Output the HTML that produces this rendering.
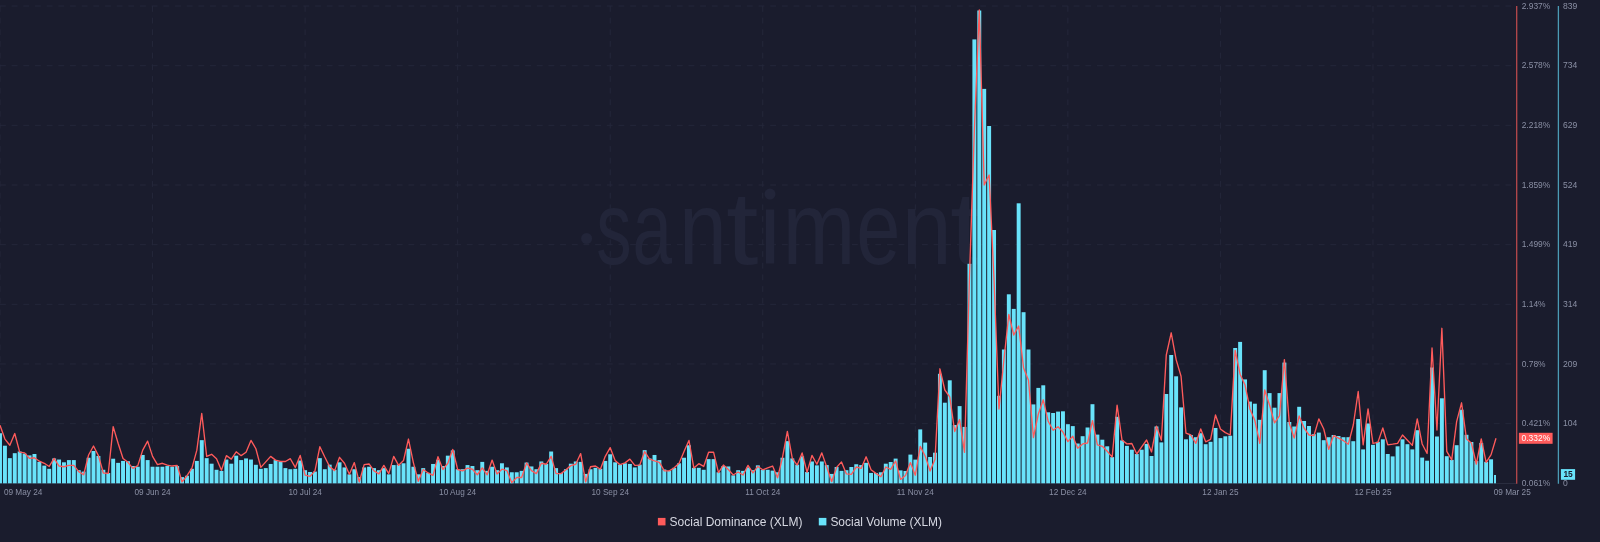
<!DOCTYPE html><html><head><meta charset="utf-8"><style>html,body{margin:0;padding:0;background:#1a1c2d;}svg{display:block;will-change:transform}</style></head><body>
<svg width="1600" height="542" viewBox="0 0 1600 542" font-family="Liberation Sans, sans-serif">
<rect width="1600" height="542" fill="#1a1c2d"/>
<line x1="0" y1="423.64" x2="1514" y2="423.64" stroke="#24273a" stroke-width="1" stroke-dasharray="5.83 5.84"/>
<line x1="0" y1="363.98" x2="1514" y2="363.98" stroke="#24273a" stroke-width="1" stroke-dasharray="5.83 5.84"/>
<line x1="0" y1="304.32" x2="1514" y2="304.32" stroke="#24273a" stroke-width="1" stroke-dasharray="5.83 5.84"/>
<line x1="0" y1="244.66" x2="1514" y2="244.66" stroke="#24273a" stroke-width="1" stroke-dasharray="5.83 5.84"/>
<line x1="0" y1="185.00" x2="1514" y2="185.00" stroke="#24273a" stroke-width="1" stroke-dasharray="5.83 5.84"/>
<line x1="0" y1="125.34" x2="1514" y2="125.34" stroke="#24273a" stroke-width="1" stroke-dasharray="5.83 5.84"/>
<line x1="0" y1="65.68" x2="1514" y2="65.68" stroke="#24273a" stroke-width="1" stroke-dasharray="5.83 5.84"/>
<line x1="0" y1="6.02" x2="1514" y2="6.02" stroke="#24273a" stroke-width="1" stroke-dasharray="5.83 5.84"/>
<line x1="0.00" y1="6" x2="0.00" y2="483.30" stroke="#24273a" stroke-width="1" stroke-dasharray="5.83 5.84"/>
<line x1="152.55" y1="6" x2="152.55" y2="483.30" stroke="#24273a" stroke-width="1" stroke-dasharray="5.83 5.84"/>
<line x1="305.11" y1="6" x2="305.11" y2="483.30" stroke="#24273a" stroke-width="1" stroke-dasharray="5.83 5.84"/>
<line x1="457.66" y1="6" x2="457.66" y2="483.30" stroke="#24273a" stroke-width="1" stroke-dasharray="5.83 5.84"/>
<line x1="610.21" y1="6" x2="610.21" y2="483.30" stroke="#24273a" stroke-width="1" stroke-dasharray="5.83 5.84"/>
<line x1="762.76" y1="6" x2="762.76" y2="483.30" stroke="#24273a" stroke-width="1" stroke-dasharray="5.83 5.84"/>
<line x1="915.32" y1="6" x2="915.32" y2="483.30" stroke="#24273a" stroke-width="1" stroke-dasharray="5.83 5.84"/>
<line x1="1067.87" y1="6" x2="1067.87" y2="483.30" stroke="#24273a" stroke-width="1" stroke-dasharray="5.83 5.84"/>
<line x1="1220.42" y1="6" x2="1220.42" y2="483.30" stroke="#24273a" stroke-width="1" stroke-dasharray="5.83 5.84"/>
<line x1="1372.97" y1="6" x2="1372.97" y2="483.30" stroke="#24273a" stroke-width="1" stroke-dasharray="5.83 5.84"/>
<g fill="#222539">
<circle cx="586.6" cy="238.5" r="5.5"/>
<circle cx="770" cy="194.1" r="5.5"/>
<rect x="765.9" y="209.5" width="8.3" height="54"/>
<text font-size="104" transform="matrix(0.6793 0 0 1 596.22 263.50)">s</text>
<text font-size="104" transform="matrix(0.6828 0 0 1 632.62 263.50)">a</text>
<text font-size="104" transform="matrix(0.8258 0 0 1 678.93 263.50)">n</text>
<text font-size="104" transform="matrix(1.1230 0 0 1 725.95 263.50)">t</text>
<text font-size="104" transform="matrix(0.8422 0 0 1 782.52 263.50)">m</text>
<text font-size="104" transform="matrix(0.7631 0 0 1 856.37 263.50)">e</text>
<text font-size="104" transform="matrix(0.8643 0 0 1 901.87 263.50)">n</text>
<text font-size="104" transform="matrix(1.1230 0 0 1 950.05 263.50)">t</text>
</g>
<line x1="0" y1="483.50" x2="1516" y2="483.50" stroke="#2a2d3f" stroke-width="1"/>
<g fill="#69e3fa">
<rect x="0.00" y="433.25" width="1.97" height="50.05"/>
<rect x="2.95" y="445.70" width="3.94" height="37.60"/>
<rect x="7.87" y="458.15" width="3.94" height="25.15"/>
<rect x="12.79" y="453.17" width="3.94" height="30.13"/>
<rect x="17.71" y="451.51" width="3.94" height="31.79"/>
<rect x="22.64" y="453.59" width="3.94" height="29.71"/>
<rect x="27.56" y="455.39" width="3.94" height="27.91"/>
<rect x="32.48" y="454.00" width="3.94" height="29.30"/>
<rect x="37.40" y="461.89" width="3.94" height="21.41"/>
<rect x="42.32" y="465.62" width="3.94" height="17.68"/>
<rect x="47.24" y="468.81" width="3.94" height="14.49"/>
<rect x="52.16" y="458.43" width="3.94" height="24.87"/>
<rect x="57.08" y="459.54" width="3.94" height="23.76"/>
<rect x="62.00" y="462.30" width="3.94" height="21.00"/>
<rect x="66.92" y="460.09" width="3.94" height="23.21"/>
<rect x="71.85" y="460.09" width="3.94" height="23.21"/>
<rect x="76.77" y="470.19" width="3.94" height="13.11"/>
<rect x="81.69" y="471.57" width="3.94" height="11.73"/>
<rect x="86.61" y="457.74" width="3.94" height="25.56"/>
<rect x="91.53" y="450.96" width="3.94" height="32.34"/>
<rect x="96.45" y="455.94" width="3.94" height="27.36"/>
<rect x="101.37" y="469.78" width="3.94" height="13.52"/>
<rect x="106.29" y="472.96" width="3.94" height="10.34"/>
<rect x="111.21" y="458.71" width="3.94" height="24.59"/>
<rect x="116.14" y="462.86" width="3.94" height="20.44"/>
<rect x="121.06" y="460.92" width="3.94" height="22.38"/>
<rect x="125.98" y="461.20" width="3.94" height="22.10"/>
<rect x="130.90" y="466.04" width="3.94" height="17.26"/>
<rect x="135.82" y="466.73" width="3.94" height="16.57"/>
<rect x="140.74" y="454.97" width="3.94" height="28.33"/>
<rect x="145.66" y="460.09" width="3.94" height="23.21"/>
<rect x="150.58" y="466.73" width="3.94" height="16.57"/>
<rect x="155.50" y="466.73" width="3.94" height="16.57"/>
<rect x="160.42" y="466.73" width="3.94" height="16.57"/>
<rect x="165.35" y="466.04" width="3.94" height="17.26"/>
<rect x="170.27" y="466.73" width="3.94" height="16.57"/>
<rect x="175.19" y="466.04" width="3.94" height="17.26"/>
<rect x="180.11" y="477.11" width="3.94" height="6.19"/>
<rect x="185.03" y="475.73" width="3.94" height="7.57"/>
<rect x="189.95" y="468.81" width="3.94" height="14.49"/>
<rect x="194.87" y="460.92" width="3.94" height="22.38"/>
<rect x="199.79" y="440.16" width="3.94" height="43.14"/>
<rect x="204.71" y="458.15" width="3.94" height="25.15"/>
<rect x="209.64" y="463.69" width="3.94" height="19.61"/>
<rect x="214.56" y="469.78" width="3.94" height="13.52"/>
<rect x="219.48" y="470.88" width="3.94" height="12.42"/>
<rect x="224.40" y="459.54" width="3.94" height="23.76"/>
<rect x="229.32" y="463.69" width="3.94" height="19.61"/>
<rect x="234.24" y="455.66" width="3.94" height="27.64"/>
<rect x="239.16" y="460.09" width="3.94" height="23.21"/>
<rect x="244.08" y="458.43" width="3.94" height="24.87"/>
<rect x="249.00" y="459.54" width="3.94" height="23.76"/>
<rect x="253.92" y="464.79" width="3.94" height="18.51"/>
<rect x="258.85" y="468.81" width="3.94" height="14.49"/>
<rect x="263.77" y="468.12" width="3.94" height="15.18"/>
<rect x="268.69" y="463.96" width="3.94" height="19.34"/>
<rect x="273.61" y="460.09" width="3.94" height="23.21"/>
<rect x="278.53" y="461.47" width="3.94" height="21.83"/>
<rect x="283.45" y="468.12" width="3.94" height="15.18"/>
<rect x="288.37" y="469.22" width="3.94" height="14.08"/>
<rect x="293.29" y="468.81" width="3.94" height="14.49"/>
<rect x="298.21" y="460.51" width="3.94" height="22.79"/>
<rect x="303.14" y="470.19" width="3.94" height="13.11"/>
<rect x="308.06" y="471.99" width="3.94" height="11.31"/>
<rect x="312.98" y="471.57" width="3.94" height="11.73"/>
<rect x="317.90" y="458.15" width="3.94" height="25.15"/>
<rect x="322.82" y="469.22" width="3.94" height="14.08"/>
<rect x="327.74" y="464.66" width="3.94" height="18.64"/>
<rect x="332.66" y="469.78" width="3.94" height="13.52"/>
<rect x="337.58" y="462.30" width="3.94" height="21.00"/>
<rect x="342.50" y="467.42" width="3.94" height="15.88"/>
<rect x="347.42" y="474.34" width="3.94" height="8.96"/>
<rect x="352.35" y="469.22" width="3.94" height="14.08"/>
<rect x="357.27" y="477.11" width="3.94" height="6.19"/>
<rect x="362.19" y="467.42" width="3.94" height="15.88"/>
<rect x="367.11" y="466.73" width="3.94" height="16.57"/>
<rect x="372.03" y="468.12" width="3.94" height="15.18"/>
<rect x="376.95" y="470.19" width="3.94" height="13.11"/>
<rect x="381.87" y="468.12" width="3.94" height="15.18"/>
<rect x="386.79" y="474.34" width="3.94" height="8.96"/>
<rect x="391.71" y="465.07" width="3.94" height="18.23"/>
<rect x="396.64" y="464.66" width="3.94" height="18.64"/>
<rect x="401.56" y="463.27" width="3.94" height="20.03"/>
<rect x="406.48" y="448.74" width="3.94" height="34.56"/>
<rect x="411.40" y="466.73" width="3.94" height="16.57"/>
<rect x="416.32" y="474.34" width="3.94" height="8.96"/>
<rect x="421.24" y="468.12" width="3.94" height="15.18"/>
<rect x="426.16" y="472.96" width="3.94" height="10.34"/>
<rect x="431.08" y="463.96" width="3.94" height="19.34"/>
<rect x="436.00" y="459.81" width="3.94" height="23.49"/>
<rect x="440.92" y="466.04" width="3.94" height="17.26"/>
<rect x="445.85" y="455.66" width="3.94" height="27.64"/>
<rect x="450.77" y="450.40" width="3.94" height="32.90"/>
<rect x="455.69" y="469.22" width="3.94" height="14.08"/>
<rect x="460.61" y="469.22" width="3.94" height="14.08"/>
<rect x="465.53" y="465.07" width="3.94" height="18.23"/>
<rect x="470.45" y="466.04" width="3.94" height="17.26"/>
<rect x="475.37" y="470.19" width="3.94" height="13.11"/>
<rect x="480.29" y="461.89" width="3.94" height="21.41"/>
<rect x="485.21" y="470.88" width="3.94" height="12.42"/>
<rect x="490.14" y="466.73" width="3.94" height="16.57"/>
<rect x="495.06" y="470.19" width="3.94" height="13.11"/>
<rect x="499.98" y="463.27" width="3.94" height="20.03"/>
<rect x="504.90" y="467.42" width="3.94" height="15.88"/>
<rect x="509.82" y="472.27" width="3.94" height="11.03"/>
<rect x="514.74" y="472.27" width="3.94" height="11.03"/>
<rect x="519.66" y="470.88" width="3.94" height="12.42"/>
<rect x="524.58" y="462.58" width="3.94" height="20.72"/>
<rect x="529.50" y="466.45" width="3.94" height="16.85"/>
<rect x="534.42" y="469.22" width="3.94" height="14.08"/>
<rect x="539.35" y="461.47" width="3.94" height="21.83"/>
<rect x="544.27" y="463.96" width="3.94" height="19.34"/>
<rect x="549.19" y="451.51" width="3.94" height="31.79"/>
<rect x="554.11" y="468.12" width="3.94" height="15.18"/>
<rect x="559.03" y="472.96" width="3.94" height="10.34"/>
<rect x="563.95" y="469.22" width="3.94" height="14.08"/>
<rect x="568.87" y="463.69" width="3.94" height="19.61"/>
<rect x="573.79" y="461.47" width="3.94" height="21.83"/>
<rect x="578.71" y="461.89" width="3.94" height="21.41"/>
<rect x="583.64" y="473.93" width="3.94" height="9.37"/>
<rect x="588.56" y="469.22" width="3.94" height="14.08"/>
<rect x="593.48" y="467.84" width="3.94" height="15.46"/>
<rect x="598.40" y="468.81" width="3.94" height="14.49"/>
<rect x="603.32" y="460.92" width="3.94" height="22.38"/>
<rect x="608.24" y="454.28" width="3.94" height="29.02"/>
<rect x="613.16" y="462.30" width="3.94" height="21.00"/>
<rect x="618.08" y="464.66" width="3.94" height="18.64"/>
<rect x="623.00" y="463.27" width="3.94" height="20.03"/>
<rect x="627.92" y="463.96" width="3.94" height="19.34"/>
<rect x="632.85" y="467.42" width="3.94" height="15.88"/>
<rect x="637.77" y="464.66" width="3.94" height="18.64"/>
<rect x="642.69" y="450.13" width="3.94" height="33.17"/>
<rect x="647.61" y="458.43" width="3.94" height="24.87"/>
<rect x="652.53" y="454.97" width="3.94" height="28.33"/>
<rect x="657.45" y="460.09" width="3.94" height="23.21"/>
<rect x="662.37" y="469.50" width="3.94" height="13.80"/>
<rect x="667.29" y="470.88" width="3.94" height="12.42"/>
<rect x="672.21" y="467.84" width="3.94" height="15.46"/>
<rect x="677.14" y="463.27" width="3.94" height="20.03"/>
<rect x="682.06" y="457.74" width="3.94" height="25.56"/>
<rect x="686.98" y="445.28" width="3.94" height="38.02"/>
<rect x="691.90" y="467.84" width="3.94" height="15.46"/>
<rect x="696.82" y="467.84" width="3.94" height="15.46"/>
<rect x="701.74" y="469.78" width="3.94" height="13.52"/>
<rect x="706.66" y="459.12" width="3.94" height="24.18"/>
<rect x="711.58" y="459.12" width="3.94" height="24.18"/>
<rect x="716.50" y="472.27" width="3.94" height="11.03"/>
<rect x="721.42" y="466.04" width="3.94" height="17.26"/>
<rect x="726.35" y="466.45" width="3.94" height="16.85"/>
<rect x="731.27" y="475.31" width="3.94" height="7.99"/>
<rect x="736.19" y="470.19" width="3.94" height="13.11"/>
<rect x="741.11" y="470.88" width="3.94" height="12.42"/>
<rect x="746.03" y="467.42" width="3.94" height="15.88"/>
<rect x="750.95" y="470.19" width="3.94" height="13.11"/>
<rect x="755.87" y="465.35" width="3.94" height="17.95"/>
<rect x="760.79" y="469.78" width="3.94" height="13.52"/>
<rect x="765.71" y="469.78" width="3.94" height="13.52"/>
<rect x="770.64" y="470.61" width="3.94" height="12.69"/>
<rect x="775.56" y="472.27" width="3.94" height="11.03"/>
<rect x="780.48" y="457.74" width="3.94" height="25.56"/>
<rect x="785.40" y="441.13" width="3.94" height="42.17"/>
<rect x="790.32" y="458.43" width="3.94" height="24.87"/>
<rect x="795.24" y="464.66" width="3.94" height="18.64"/>
<rect x="800.16" y="456.35" width="3.94" height="26.95"/>
<rect x="805.08" y="471.99" width="3.94" height="11.31"/>
<rect x="810.00" y="461.47" width="3.94" height="21.83"/>
<rect x="814.92" y="465.35" width="3.94" height="17.95"/>
<rect x="819.85" y="461.47" width="3.94" height="21.83"/>
<rect x="824.77" y="465.07" width="3.94" height="18.23"/>
<rect x="829.69" y="473.93" width="3.94" height="9.37"/>
<rect x="834.61" y="467.01" width="3.94" height="16.29"/>
<rect x="839.53" y="470.88" width="3.94" height="12.42"/>
<rect x="844.45" y="470.19" width="3.94" height="13.11"/>
<rect x="849.37" y="467.01" width="3.94" height="16.29"/>
<rect x="854.29" y="464.24" width="3.94" height="19.06"/>
<rect x="859.21" y="465.07" width="3.94" height="18.23"/>
<rect x="864.14" y="462.86" width="3.94" height="20.44"/>
<rect x="869.06" y="472.96" width="3.94" height="10.34"/>
<rect x="873.98" y="472.96" width="3.94" height="10.34"/>
<rect x="878.90" y="472.27" width="3.94" height="11.03"/>
<rect x="883.82" y="463.69" width="3.94" height="19.61"/>
<rect x="888.74" y="462.00" width="3.94" height="21.30"/>
<rect x="893.66" y="458.60" width="3.94" height="24.70"/>
<rect x="898.58" y="470.40" width="3.94" height="12.90"/>
<rect x="903.50" y="471.00" width="3.94" height="12.30"/>
<rect x="908.42" y="454.60" width="3.94" height="28.70"/>
<rect x="913.35" y="459.60" width="3.94" height="23.70"/>
<rect x="918.27" y="429.40" width="3.94" height="53.90"/>
<rect x="923.19" y="442.60" width="3.94" height="40.70"/>
<rect x="928.11" y="457.00" width="3.94" height="26.30"/>
<rect x="933.03" y="452.70" width="3.94" height="30.60"/>
<rect x="937.95" y="373.80" width="3.94" height="109.50"/>
<rect x="942.87" y="402.70" width="3.94" height="80.60"/>
<rect x="947.79" y="380.30" width="3.94" height="103.00"/>
<rect x="952.71" y="425.00" width="3.94" height="58.30"/>
<rect x="957.64" y="406.10" width="3.94" height="77.20"/>
<rect x="962.56" y="426.90" width="3.94" height="56.40"/>
<rect x="967.48" y="263.80" width="3.94" height="219.50"/>
<rect x="972.40" y="39.40" width="3.94" height="443.90"/>
<rect x="977.32" y="10.50" width="3.94" height="472.80"/>
<rect x="982.24" y="88.90" width="3.94" height="394.40"/>
<rect x="987.16" y="126.00" width="3.94" height="357.30"/>
<rect x="992.08" y="230.00" width="3.94" height="253.30"/>
<rect x="997.00" y="395.80" width="3.94" height="87.50"/>
<rect x="1001.92" y="349.50" width="3.94" height="133.80"/>
<rect x="1006.85" y="294.30" width="3.94" height="189.00"/>
<rect x="1011.77" y="308.90" width="3.94" height="174.40"/>
<rect x="1016.69" y="203.30" width="3.94" height="280.00"/>
<rect x="1021.61" y="312.20" width="3.94" height="171.10"/>
<rect x="1026.53" y="349.50" width="3.94" height="133.80"/>
<rect x="1031.45" y="404.40" width="3.94" height="78.90"/>
<rect x="1036.37" y="387.90" width="3.94" height="95.40"/>
<rect x="1041.29" y="385.30" width="3.94" height="98.00"/>
<rect x="1046.21" y="412.30" width="3.94" height="71.00"/>
<rect x="1051.14" y="413.00" width="3.94" height="70.30"/>
<rect x="1056.06" y="411.60" width="3.94" height="71.70"/>
<rect x="1060.98" y="411.30" width="3.94" height="72.00"/>
<rect x="1065.90" y="424.20" width="3.94" height="59.10"/>
<rect x="1070.82" y="426.10" width="3.94" height="57.20"/>
<rect x="1075.74" y="443.50" width="3.94" height="39.80"/>
<rect x="1080.66" y="436.20" width="3.94" height="47.10"/>
<rect x="1085.58" y="427.50" width="3.94" height="55.80"/>
<rect x="1090.50" y="404.20" width="3.94" height="79.10"/>
<rect x="1095.42" y="434.60" width="3.94" height="48.70"/>
<rect x="1100.35" y="439.70" width="3.94" height="43.60"/>
<rect x="1105.27" y="446.30" width="3.94" height="37.00"/>
<rect x="1110.19" y="457.10" width="3.94" height="26.20"/>
<rect x="1115.11" y="416.80" width="3.94" height="66.50"/>
<rect x="1120.03" y="440.40" width="3.94" height="42.90"/>
<rect x="1124.95" y="445.90" width="3.94" height="37.40"/>
<rect x="1129.87" y="449.70" width="3.94" height="33.60"/>
<rect x="1134.79" y="454.00" width="3.94" height="29.30"/>
<rect x="1139.71" y="449.70" width="3.94" height="33.60"/>
<rect x="1144.64" y="443.90" width="3.94" height="39.40"/>
<rect x="1149.56" y="456.00" width="3.94" height="27.30"/>
<rect x="1154.48" y="426.50" width="3.94" height="56.80"/>
<rect x="1159.40" y="442.40" width="3.94" height="40.90"/>
<rect x="1164.32" y="394.00" width="3.94" height="89.30"/>
<rect x="1169.24" y="355.00" width="3.94" height="128.30"/>
<rect x="1174.16" y="376.30" width="3.94" height="107.00"/>
<rect x="1179.08" y="407.40" width="3.94" height="75.90"/>
<rect x="1184.00" y="439.30" width="3.94" height="44.00"/>
<rect x="1188.92" y="435.00" width="3.94" height="48.30"/>
<rect x="1193.85" y="437.20" width="3.94" height="46.10"/>
<rect x="1198.77" y="433.20" width="3.94" height="50.10"/>
<rect x="1203.69" y="444.20" width="3.94" height="39.10"/>
<rect x="1208.61" y="441.80" width="3.94" height="41.50"/>
<rect x="1213.53" y="428.00" width="3.94" height="55.30"/>
<rect x="1218.45" y="438.10" width="3.94" height="45.20"/>
<rect x="1223.37" y="436.30" width="3.94" height="47.00"/>
<rect x="1228.29" y="435.70" width="3.94" height="47.60"/>
<rect x="1233.21" y="348.00" width="3.94" height="135.30"/>
<rect x="1238.14" y="341.90" width="3.94" height="141.40"/>
<rect x="1243.06" y="379.40" width="3.94" height="103.90"/>
<rect x="1247.98" y="401.60" width="3.94" height="81.70"/>
<rect x="1252.90" y="403.70" width="3.94" height="79.60"/>
<rect x="1257.82" y="419.80" width="3.94" height="63.50"/>
<rect x="1262.74" y="370.20" width="3.94" height="113.10"/>
<rect x="1267.66" y="393.10" width="3.94" height="90.20"/>
<rect x="1272.58" y="407.70" width="3.94" height="75.60"/>
<rect x="1277.50" y="393.10" width="3.94" height="90.20"/>
<rect x="1282.42" y="362.60" width="3.94" height="120.70"/>
<rect x="1287.35" y="422.00" width="3.94" height="61.30"/>
<rect x="1292.27" y="426.50" width="3.94" height="56.80"/>
<rect x="1297.19" y="406.80" width="3.94" height="76.50"/>
<rect x="1302.11" y="421.00" width="3.94" height="62.30"/>
<rect x="1307.03" y="426.00" width="3.94" height="57.30"/>
<rect x="1311.95" y="434.20" width="3.94" height="49.10"/>
<rect x="1316.87" y="432.60" width="3.94" height="50.70"/>
<rect x="1321.79" y="440.20" width="3.94" height="43.10"/>
<rect x="1326.71" y="437.20" width="3.94" height="46.10"/>
<rect x="1331.64" y="435.00" width="3.94" height="48.30"/>
<rect x="1336.56" y="436.00" width="3.94" height="47.30"/>
<rect x="1341.48" y="437.20" width="3.94" height="46.10"/>
<rect x="1346.40" y="437.20" width="3.94" height="46.10"/>
<rect x="1351.32" y="441.20" width="3.94" height="42.10"/>
<rect x="1356.24" y="419.00" width="3.94" height="64.30"/>
<rect x="1361.16" y="449.40" width="3.94" height="33.90"/>
<rect x="1366.08" y="423.50" width="3.94" height="59.80"/>
<rect x="1371.00" y="444.80" width="3.94" height="38.50"/>
<rect x="1375.92" y="441.80" width="3.94" height="41.50"/>
<rect x="1380.85" y="439.30" width="3.94" height="44.00"/>
<rect x="1385.77" y="454.00" width="3.94" height="29.30"/>
<rect x="1390.69" y="456.40" width="3.94" height="26.90"/>
<rect x="1395.61" y="446.30" width="3.94" height="37.00"/>
<rect x="1400.53" y="439.30" width="3.94" height="44.00"/>
<rect x="1405.45" y="444.20" width="3.94" height="39.10"/>
<rect x="1410.37" y="449.40" width="3.94" height="33.90"/>
<rect x="1415.29" y="430.20" width="3.94" height="53.10"/>
<rect x="1420.21" y="457.60" width="3.94" height="25.70"/>
<rect x="1425.14" y="460.70" width="3.94" height="22.60"/>
<rect x="1430.06" y="367.50" width="3.94" height="115.80"/>
<rect x="1434.98" y="436.50" width="3.94" height="46.80"/>
<rect x="1439.90" y="398.30" width="3.94" height="85.00"/>
<rect x="1444.82" y="456.20" width="3.94" height="27.10"/>
<rect x="1449.74" y="459.90" width="3.94" height="23.40"/>
<rect x="1454.66" y="445.20" width="3.94" height="38.10"/>
<rect x="1459.58" y="409.70" width="3.94" height="73.60"/>
<rect x="1464.50" y="434.80" width="3.94" height="48.50"/>
<rect x="1469.42" y="442.00" width="3.94" height="41.30"/>
<rect x="1474.35" y="460.90" width="3.94" height="22.40"/>
<rect x="1479.27" y="443.00" width="3.94" height="40.30"/>
<rect x="1484.19" y="461.80" width="3.94" height="21.50"/>
<rect x="1489.11" y="459.30" width="3.94" height="24.00"/>
<rect x="1494.03" y="475.00" width="1.97" height="8.30"/>
</g>
<polyline points="0.00,425.22 4.92,439.06 9.84,445.28 14.76,433.52 19.68,452.20 24.61,452.89 29.53,458.43 34.45,457.74 39.37,461.20 44.29,463.27 49.21,466.45 54.13,458.43 59.05,466.04 63.97,466.73 68.89,465.35 73.82,465.35 78.74,471.57 83.66,474.76 88.58,454.97 93.50,445.98 98.42,455.66 103.34,472.96 108.26,473.37 113.18,426.60 118.11,443.21 123.03,458.43 127.95,462.30 132.87,468.39 137.79,465.62 142.71,450.13 147.63,441.13 152.55,456.35 157.47,464.66 162.39,463.27 167.32,465.07 172.24,466.04 177.16,465.35 182.08,481.95 187.00,475.73 191.92,468.12 196.84,450.13 201.76,413.46 206.68,456.35 211.61,454.28 216.53,458.71 221.45,470.19 226.37,455.66 231.29,459.12 236.21,451.79 241.13,455.66 246.05,452.20 250.97,440.44 255.89,448.74 260.82,467.42 265.74,461.89 270.66,456.35 275.58,460.09 280.50,461.47 285.42,461.47 290.34,458.71 295.26,467.42 300.18,455.39 305.11,475.03 310.03,476.42 314.95,470.88 319.87,446.67 324.79,457.05 329.71,466.73 334.63,470.61 339.55,457.32 344.47,463.27 349.39,474.34 354.32,462.58 359.24,481.95 364.16,464.66 369.08,463.96 374.00,470.88 378.92,473.93 383.84,465.35 388.76,473.65 393.68,456.35 398.61,465.35 403.53,460.51 408.45,439.06 413.37,462.58 418.29,481.26 423.21,469.50 428.13,472.96 433.05,475.31 437.97,456.77 442.89,469.50 447.82,463.27 452.74,449.44 457.66,469.50 462.58,470.88 467.50,468.12 472.42,469.22 477.34,474.76 482.26,467.84 487.18,474.76 492.11,460.09 497.03,473.93 501.95,469.22 506.87,470.61 511.79,482.64 516.71,477.52 521.63,477.52 526.55,462.86 531.47,470.61 536.39,473.65 541.32,463.27 546.24,464.24 551.16,456.35 556.08,473.65 561.00,473.65 565.92,469.78 570.84,465.62 575.76,464.24 580.68,453.59 585.61,481.95 590.53,466.73 595.45,466.04 600.37,469.22 605.29,456.35 610.21,447.64 615.13,460.51 620.05,464.66 624.97,462.86 629.89,459.12 634.82,465.35 639.74,465.07 644.66,451.51 649.58,459.12 654.50,460.92 659.42,462.30 664.34,470.88 669.26,470.88 674.18,467.84 679.11,463.27 684.03,451.51 688.95,440.44 693.87,468.12 698.79,463.69 703.71,466.45 708.63,452.20 713.55,452.20 718.47,472.54 723.39,465.07 728.32,469.50 733.24,475.03 738.16,471.99 743.08,475.03 748.00,465.35 752.92,472.96 757.84,466.45 762.76,469.78 767.68,467.84 772.61,466.04 777.53,477.80 782.45,457.74 787.37,431.45 792.29,458.43 797.21,465.07 802.13,452.89 807.05,472.27 811.97,455.39 816.89,464.24 821.82,452.89 826.74,467.01 831.66,481.68 836.58,467.42 841.50,461.89 846.42,473.93 851.34,474.34 856.26,467.01 861.18,468.39 866.11,456.77 871.03,469.78 875.95,473.37 880.87,476.69 885.79,467.01 890.71,469.40 895.63,461.00 900.55,479.40 905.47,475.40 910.39,462.60 915.32,475.20 920.24,446.40 925.16,456.00 930.08,471.00 935.00,459.20 939.92,368.80 944.84,390.00 949.76,396.90 954.68,431.50 959.61,419.50 964.53,452.30 969.45,278.00 974.37,130.00 979.29,10.00 984.21,185.00 989.13,175.00 994.05,280.00 998.97,409.00 1003.89,360.00 1008.82,314.50 1013.74,335.00 1018.66,326.00 1023.58,368.00 1028.50,380.30 1033.42,437.50 1038.34,414.00 1043.26,399.80 1048.18,421.30 1053.11,430.30 1058.03,426.70 1062.95,432.00 1067.87,441.60 1072.79,436.20 1077.71,448.20 1082.63,443.90 1087.55,443.00 1092.47,420.70 1097.39,444.90 1102.32,446.30 1107.24,451.30 1112.16,457.10 1117.08,405.20 1122.00,440.00 1126.92,443.90 1131.84,443.50 1136.76,454.00 1141.68,446.80 1146.61,440.00 1151.53,452.00 1156.45,426.10 1161.37,440.20 1166.29,355.00 1171.21,332.80 1176.13,359.60 1181.05,376.30 1185.97,433.20 1190.89,435.00 1195.82,443.30 1200.74,429.00 1205.66,441.80 1210.58,439.30 1215.50,415.00 1220.42,429.00 1225.34,432.60 1230.26,435.00 1235.18,350.40 1240.11,374.20 1245.03,385.00 1249.95,409.00 1254.87,420.50 1259.79,443.30 1264.71,390.00 1269.63,405.20 1274.55,422.90 1279.47,415.90 1284.39,359.60 1289.32,423.50 1294.24,438.10 1299.16,415.90 1304.08,428.00 1309.00,435.00 1313.92,435.70 1318.84,418.90 1323.76,429.00 1328.68,449.40 1333.61,435.70 1338.53,438.10 1343.45,440.70 1348.37,444.20 1353.29,425.00 1358.21,391.50 1363.13,444.80 1368.05,408.90 1372.97,443.30 1377.89,442.40 1382.82,428.00 1387.74,444.80 1392.66,444.20 1397.58,443.30 1402.50,435.00 1407.42,440.20 1412.34,445.40 1417.26,418.90 1422.18,444.00 1427.11,453.50 1432.03,348.00 1436.95,430.00 1441.87,328.30 1446.79,451.40 1451.71,459.90 1456.63,421.70 1461.55,402.80 1466.47,438.90 1471.39,443.00 1476.32,464.00 1481.24,438.90 1486.16,462.40 1491.08,454.60 1496.00,438.30" fill="none" stroke="#ff5b5b" stroke-width="1.35" stroke-linejoin="round"/>
<line x1="1516.7" y1="6" x2="1516.7" y2="483.8" stroke="#b8494c" stroke-width="1.3"/>
<line x1="1558.4" y1="6" x2="1558.4" y2="483.8" stroke="#4b9bb5" stroke-width="1.3"/>
<text x="1521.7" y="8.77" font-size="9.8" fill="#8a8fa4" transform="translate(1521.7 0) scale(0.86 1) translate(-1521.7 0)">2.937%</text>
<text x="1521.7" y="68.43" font-size="9.8" fill="#8a8fa4" transform="translate(1521.7 0) scale(0.86 1) translate(-1521.7 0)">2.578%</text>
<text x="1521.7" y="128.09" font-size="9.8" fill="#8a8fa4" transform="translate(1521.7 0) scale(0.86 1) translate(-1521.7 0)">2.218%</text>
<text x="1521.7" y="187.75" font-size="9.8" fill="#8a8fa4" transform="translate(1521.7 0) scale(0.86 1) translate(-1521.7 0)">1.859%</text>
<text x="1521.7" y="247.41" font-size="9.8" fill="#8a8fa4" transform="translate(1521.7 0) scale(0.86 1) translate(-1521.7 0)">1.499%</text>
<text x="1521.7" y="307.07" font-size="9.8" fill="#8a8fa4" transform="translate(1521.7 0) scale(0.86 1) translate(-1521.7 0)">1.14%</text>
<text x="1521.7" y="366.73" font-size="9.8" fill="#8a8fa4" transform="translate(1521.7 0) scale(0.86 1) translate(-1521.7 0)">0.78%</text>
<text x="1521.7" y="426.39" font-size="9.8" fill="#8a8fa4" transform="translate(1521.7 0) scale(0.86 1) translate(-1521.7 0)">0.421%</text>
<text x="1521.7" y="486.05" font-size="9.8" fill="#8a8fa4" transform="translate(1521.7 0) scale(0.86 1) translate(-1521.7 0)">0.061%</text>
<text x="1563" y="8.77" font-size="9.8" fill="#8a8fa4" transform="translate(1563 0) scale(0.875 1) translate(-1563 0)">839</text>
<text x="1563" y="68.43" font-size="9.8" fill="#8a8fa4" transform="translate(1563 0) scale(0.875 1) translate(-1563 0)">734</text>
<text x="1563" y="128.09" font-size="9.8" fill="#8a8fa4" transform="translate(1563 0) scale(0.875 1) translate(-1563 0)">629</text>
<text x="1563" y="187.75" font-size="9.8" fill="#8a8fa4" transform="translate(1563 0) scale(0.875 1) translate(-1563 0)">524</text>
<text x="1563" y="247.41" font-size="9.8" fill="#8a8fa4" transform="translate(1563 0) scale(0.875 1) translate(-1563 0)">419</text>
<text x="1563" y="307.07" font-size="9.8" fill="#8a8fa4" transform="translate(1563 0) scale(0.875 1) translate(-1563 0)">314</text>
<text x="1563" y="366.73" font-size="9.8" fill="#8a8fa4" transform="translate(1563 0) scale(0.875 1) translate(-1563 0)">209</text>
<text x="1563" y="426.39" font-size="9.8" fill="#8a8fa4" transform="translate(1563 0) scale(0.875 1) translate(-1563 0)">104</text>
<text x="1563" y="486.05" font-size="9.8" fill="#8a8fa4" transform="translate(1563 0) scale(0.875 1) translate(-1563 0)">0</text>
<rect x="1518.9" y="432.8" width="33.7" height="11" fill="#ff5b5b"/>
<text x="1521.6" y="440.9" font-size="9.8" fill="#ffffff" transform="translate(1521.6 0) scale(0.86 1) translate(-1521.6 0)">0.332%</text>
<rect x="1560.9" y="469.1" width="14.2" height="10.7" fill="#69e3fa"/>
<text x="1563.4" y="477.1" font-size="9.8" font-weight="bold" fill="#1a1c2d" transform="translate(1563.4 0) scale(0.86 1) translate(-1563.4 0)">15</text>
<text x="3.9" y="494.7" font-size="9.8" fill="#8a8fa4" transform="translate(3.9 0) scale(0.84 1) translate(-3.9 0)">09 May 24</text>
<text x="152.55" y="494.7" font-size="9.8" fill="#8a8fa4" text-anchor="middle" transform="translate(152.55 0) scale(0.84 1) translate(-152.55 0)">09 Jun 24</text>
<text x="305.11" y="494.7" font-size="9.8" fill="#8a8fa4" text-anchor="middle" transform="translate(305.11 0) scale(0.84 1) translate(-305.11 0)">10 Jul 24</text>
<text x="457.66" y="494.7" font-size="9.8" fill="#8a8fa4" text-anchor="middle" transform="translate(457.66 0) scale(0.84 1) translate(-457.66 0)">10 Aug 24</text>
<text x="610.21" y="494.7" font-size="9.8" fill="#8a8fa4" text-anchor="middle" transform="translate(610.21 0) scale(0.84 1) translate(-610.21 0)">10 Sep 24</text>
<text x="762.76" y="494.7" font-size="9.8" fill="#8a8fa4" text-anchor="middle" transform="translate(762.76 0) scale(0.84 1) translate(-762.76 0)">11 Oct 24</text>
<text x="915.32" y="494.7" font-size="9.8" fill="#8a8fa4" text-anchor="middle" transform="translate(915.32 0) scale(0.84 1) translate(-915.32 0)">11 Nov 24</text>
<text x="1067.87" y="494.7" font-size="9.8" fill="#8a8fa4" text-anchor="middle" transform="translate(1067.87 0) scale(0.84 1) translate(-1067.87 0)">12 Dec 24</text>
<text x="1220.42" y="494.7" font-size="9.8" fill="#8a8fa4" text-anchor="middle" transform="translate(1220.42 0) scale(0.84 1) translate(-1220.42 0)">12 Jan 25</text>
<text x="1372.97" y="494.7" font-size="9.8" fill="#8a8fa4" text-anchor="middle" transform="translate(1372.97 0) scale(0.84 1) translate(-1372.97 0)">12 Feb 25</text>
<text x="1493.7" y="494.7" font-size="9.8" fill="#8a8fa4" transform="translate(1493.7 0) scale(0.84 1) translate(-1493.7 0)">09 Mar 25</text>
<rect x="657.9" y="517.9" width="7.6" height="7.5" fill="#ff5b5b"/>
<text x="669.6" y="526" font-size="13" fill="#d6d8e2" textLength="132.8" lengthAdjust="spacingAndGlyphs">Social Dominance (XLM)</text>
<rect x="818.8" y="517.9" width="7.6" height="7.5" fill="#69e3fa"/>
<text x="830.4" y="526" font-size="13" fill="#d6d8e2" textLength="111.6" lengthAdjust="spacingAndGlyphs">Social Volume (XLM)</text>
</svg></body></html>
